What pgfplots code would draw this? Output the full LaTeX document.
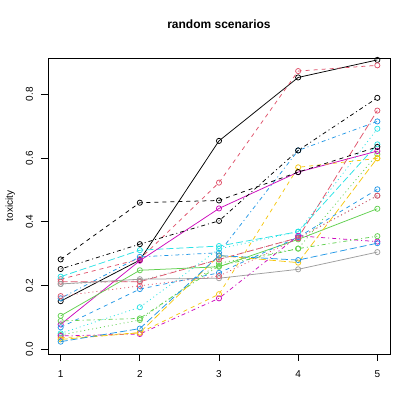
\documentclass[border=0pt]{standalone}
\usepackage{fontspec}
\setmainfont{Liberation Sans}
\usepackage{pgfplots}
\pgfplotsset{compat=1.18}
\definecolor{cK}{HTML}{000000}
\definecolor{cP}{HTML}{DF536B}
\definecolor{cG}{HTML}{61D04F}
\definecolor{cB}{HTML}{2297E6}
\definecolor{cC}{HTML}{28E2E5}
\definecolor{cM}{HTML}{CD0BBC}
\definecolor{cY}{HTML}{F5C710}
\definecolor{cA}{HTML}{9E9E9E}
\tikzset{
 lsolid/.style={solid},
 ldash/.style={dash pattern=on 4bp off 4bp},
 ldot/.style={dash pattern=on 1bp off 3bp},
 ldd/.style={dash pattern=on 1bp off 3bp on 4bp off 3bp},
 llong/.style={dash pattern=on 7bp off 3bp},
}
\pgfplotsset{
 s/.style 2 args={#1, #2, line width=0.75bp, mark=o, mark size=2.6bp, mark options={solid, line width=0.75bp}},
}
\begin{document}
\begin{tikzpicture}[x=1bp,y=1bp]
\useasboundingbox (0,0) rectangle (415,415);
\begin{axis}[
 at={(48bp,61bp)}, anchor=south west,
 scale only axis, width=342bp, height=296bp,
 xmin=0.84, xmax=5.16, ymin=-0.0147, ymax=0.914,
 xtick={1,2,3,4,5}, ytick={0,0.2,0.4,0.6,0.8},
 tick pos=left, tick align=outside, major tick length=7bp,
 every tick/.style={black, line width=0.75bp},
 axis line style={line width=0.75bp},
 tick label style={font=\fontsize{10bp}{12bp}\selectfont},
 /pgf/number format/assume math mode=true,
 yticklabel style={rotate=90, anchor=base, /pgf/number format/fixed, /pgf/number format/fixed zerofill, /pgf/number format/precision=1},
 xticklabel style={anchor=base},
 xticklabel shift=17bp, yticklabel shift=8bp,
 clip mode=individual,
]
\node[font=\fontsize{12bp}{14bp}\selectfont\bfseries, anchor=base] at (rel axis cs:0.5,1) [yshift=29bp] {random scenarios};
\node[font=\fontsize{10bp}{12bp}\selectfont, rotate=90, anchor=base, yshift=35bp] at (rel axis cs:0,0.5) {toxicity};
% 1 black solid
\addplot[s={cK}{lsolid}] coordinates {(1,0.151) (2,0.280) (3,0.654) (4,0.853) (5,0.908)};
% 2 pink dashed
\addplot[s={cP}{ldash}] coordinates {(1,0.220) (2,0.283) (3,0.523) (4,0.873) (5,0.891)};
% 3 green dotted
\addplot[s={cG}{ldot}] coordinates {(1,0.045) (2,0.092) (3,0.270) (4,0.316) (5,0.612)};
% 4 blue dotdash
\addplot[s={cB}{ldd}] coordinates {(1,0.160) (2,0.290) (3,0.303) (4,0.624) (5,0.715)};
% 5 cyan longdash
\addplot[s={cC}{llong}] coordinates {(1,0.228) (2,0.311) (3,0.324) (4,0.369) (5,0.643)};
% 6 magenta solid
\addplot[s={cM}{lsolid}] coordinates {(1,0.078) (2,0.278) (3,0.442) (4,0.556) (5,0.622)};
% 7 yellow dashed
\addplot[s={cY}{ldash}] coordinates {(1,0.036) (2,0.052) (3,0.173) (4,0.571) (5,0.599)};
% 8 gray dotted
\addplot[s={cA}{ldot}] coordinates {(1,0.205) (2,0.215) (3,0.282) (4,0.350) (5,0.482)};
% 9 black dotdash
\addplot[s={cK}{ldd}] coordinates {(1,0.252) (2,0.330) (3,0.403) (4,0.624) (5,0.789)};
% 10 pink longdash
\addplot[s={cP}{llong}] coordinates {(1,0.212) (2,0.212) (3,0.282) (4,0.350) (5,0.749)};
% 11 green solid
\addplot[s={cG}{lsolid}] coordinates {(1,0.105) (2,0.248) (3,0.259) (4,0.345) (5,0.441)};
% 12 blue dashed
\addplot[s={cB}{ldash}] coordinates {(1,0.069) (2,0.189) (3,0.240) (4,0.352) (5,0.502)};
% 13 cyan dotted
\addplot[s={cC}{ldot}] coordinates {(1,0.050) (2,0.132) (3,0.315) (4,0.369) (5,0.692)};
% 14 magenta dotdash
\addplot[s={cM}{ldd}] coordinates {(1,0.042) (2,0.048) (3,0.160) (4,0.356) (5,0.338)};
% 15 yellow longdash
\addplot[s={cY}{llong}] coordinates {(1,0.031) (2,0.052) (3,0.294) (4,0.272) (5,0.600)};
% 16 gray solid
\addplot[s={cA}{lsolid}] coordinates {(1,0.205) (2,0.220) (3,0.223) (4,0.251) (5,0.305)};
% 17 black dashed
\addplot[s={cK}{ldash}] coordinates {(1,0.282) (2,0.460) (3,0.467) (4,0.556) (5,0.635)};
% 18 pink dotted
\addplot[s={cP}{ldot}] coordinates {(1,0.167) (2,0.199) (3,0.230) (4,0.348) (5,0.482)};
% 19 green dotdash
\addplot[s={cG}{ldd}] coordinates {(1,0.089) (2,0.097) (3,0.262) (4,0.316) (5,0.355)};
% 20 blue longdash
\addplot[s={cB}{llong}] coordinates {(1,0.024) (2,0.065) (3,0.294) (4,0.280) (5,0.333)};
\end{axis}
\end{tikzpicture}
\end{document}
